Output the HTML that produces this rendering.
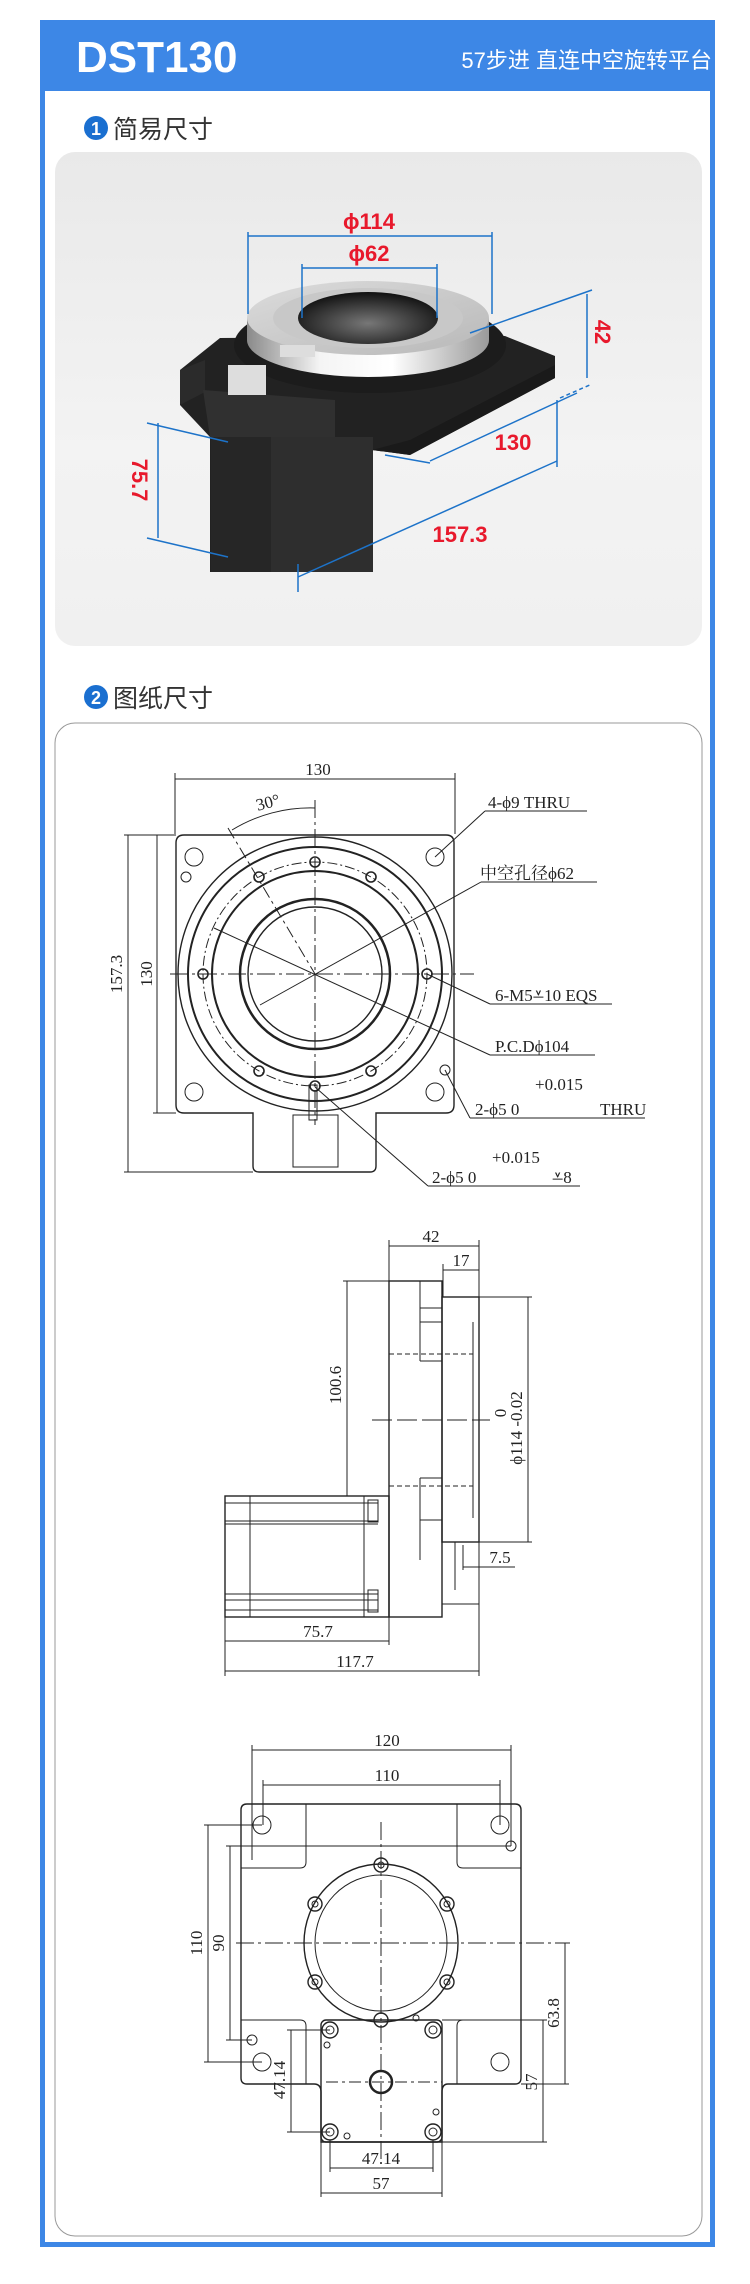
<!DOCTYPE html>
<html><head><meta charset="utf-8"><style>
html,body{margin:0;padding:0;background:#fff;}
svg{display:block;}
.d{font-family:"Liberation Serif","Noto Serif CJK SC",serif;font-size:17px;fill:#222;}
.r{font-family:"Liberation Sans",sans-serif;font-weight:bold;fill:#e8192c;font-size:22px;}
</style></head><body>
<svg width="750" height="2284" viewBox="0 0 750 2284" xmlns="http://www.w3.org/2000/svg">
<defs>
<linearGradient id="bg1" x1="0" y1="0" x2="0" y2="1"><stop offset="0" stop-color="#e9e9e9"/><stop offset="0.6" stop-color="#f3f3f3"/><stop offset="1" stop-color="#f0f0f0"/></linearGradient>
<linearGradient id="sil" x1="0" y1="0" x2="1" y2="0"><stop offset="0" stop-color="#8a8a8a"/><stop offset="0.3" stop-color="#f4f4f4"/><stop offset="0.6" stop-color="#ffffff"/><stop offset="1" stop-color="#9a9a9a"/></linearGradient>
<linearGradient id="top" x1="0" y1="0" x2="1" y2="1"><stop offset="0" stop-color="#dcdcdc"/><stop offset="1" stop-color="#b8b8b8"/></linearGradient>
<radialGradient id="bore" cx="0.5" cy="0.6" r="0.6"><stop offset="0" stop-color="#777"/><stop offset="1" stop-color="#111"/></radialGradient>
</defs>
<rect x="40" y="20" width="675" height="2227" fill="#3d87e6"/>
<rect x="45" y="91" width="665" height="2151" fill="#fff"/>
<text x="76" y="72" font-family="Liberation Sans, sans-serif" font-weight="bold" font-size="44" fill="#fff">DST130</text>
<text x="712" y="68" text-anchor="end" font-family="Liberation Sans, 'Noto Sans CJK SC', sans-serif" font-size="22" fill="#fff">57步进 直连中空旋转平台</text>
<circle cx="96" cy="128" r="12" fill="#1a6fd0"/><text x="96" y="135" text-anchor="middle" font-family="Liberation Sans,sans-serif" font-weight="bold" font-size="18" fill="#fff">1</text>
<text x="113" y="138" font-family="'Noto Sans CJK SC',sans-serif" font-size="25" fill="#333">简易尺寸</text>
<rect x="55" y="152" width="647" height="494" rx="20" fill="url(#bg1)"/>
<polygon points="180,370 220,338 505,336 555,356 555,378 410,455 372,450 372,572 210,572 210,437 180,405" fill="#222"/>
<polygon points="180,370 205,360 205,392 180,405" fill="#2b2b2b"/>
<polygon points="203,390 335,400 335,440 210,437" fill="#303030"/>
<polygon points="372,450 410,455 555,378 555,365 410,440" fill="#1a1a1a"/>
<rect x="211" y="437" width="162" height="135" fill="#2e2e2e"/>
<rect x="211" y="437" width="60" height="135" fill="#262626"/>
<ellipse cx="370" cy="345" rx="136" ry="48" fill="#1c1c1c"/>
<path d="M247 318 L247 340 A121 37 0 0 0 489 340 L489 318 Z" fill="url(#sil)"/>
<ellipse cx="368" cy="318" rx="121" ry="37" fill="url(#top)"/>
<ellipse cx="368" cy="318" rx="95" ry="30" fill="#c8c8c8"/>
<ellipse cx="368" cy="318" rx="70" ry="26" fill="url(#bore)"/>
<rect x="228" y="365" width="38" height="30" fill="#ddd"/>
<rect x="280" y="345" width="35" height="12" fill="#ddd"/>
<g stroke="#1d73c9" stroke-width="1.5" fill="none">
<line x1="248" y1="236" x2="492" y2="236"/><line x1="248" y1="232" x2="248" y2="314"/><line x1="492" y1="232" x2="492" y2="314"/>
<line x1="302" y1="268" x2="437" y2="268"/><line x1="302" y1="264" x2="302" y2="318"/><line x1="437" y1="264" x2="437" y2="318"/>
<line x1="470" y1="333" x2="592" y2="290"/><line x1="587" y1="294" x2="587" y2="378"/><line x1="560" y1="398" x2="592" y2="384" stroke-dasharray="4 3"/>
<line x1="577" y1="393" x2="430" y2="461"/><line x1="385" y1="455" x2="430" y2="463"/>
<line x1="557" y1="400" x2="557" y2="467"/><line x1="557" y1="461" x2="298" y2="577"/><line x1="298" y1="564" x2="298" y2="592"/>
<line x1="158" y1="423" x2="158" y2="538"/><line x1="147" y1="423" x2="228" y2="442"/><line x1="147" y1="538" x2="228" y2="557"/>
</g>
<text class="r" x="369" y="229" text-anchor="middle">ϕ114</text>
<text class="r" x="369" y="261" text-anchor="middle">ϕ62</text>
<text class="r" x="513" y="450" text-anchor="middle">130</text>
<text class="r" x="460" y="542" text-anchor="middle">157.3</text>
<text class="r" transform="translate(595,332) rotate(90)" text-anchor="middle">42</text>
<text class="r" transform="translate(132,480) rotate(90)" text-anchor="middle">75.7</text>
<circle cx="96" cy="697" r="12" fill="#1a6fd0"/><text x="96" y="704" text-anchor="middle" font-family="Liberation Sans,sans-serif" font-weight="bold" font-size="18" fill="#fff">2</text>
<text x="113" y="707" font-family="'Noto Sans CJK SC',sans-serif" font-size="25" fill="#333">图纸尺寸</text>
<rect x="55" y="723" width="647" height="1513" rx="20" fill="#fff" stroke="#999" stroke-width="1"/>
<g stroke="#222" fill="none" stroke-width="1">
<line x1="175" y1="779" x2="455" y2="779"/><line x1="175" y1="773" x2="175" y2="834"/><line x1="455" y1="773" x2="455" y2="834"/>
<path d="M184 835 L446 835 Q454 835 454 843 L454 1105 Q454 1113 446 1113 L376 1113 L376 1166 Q376 1172 370 1172 L259 1172 Q253 1172 253 1166 L253 1113 L184 1113 Q176 1113 176 1105 L176 843 Q176 835 184 835 Z" stroke-width="1.4"/>
<circle cx="315" cy="974" r="137" stroke-width="1.4"/>
<circle cx="315" cy="974" r="127" stroke-width="2"/>
<circle cx="315" cy="974" r="112" stroke-dasharray="10 3 2 3"/>
<circle cx="315" cy="974" r="103" stroke-width="2"/>
<circle cx="315" cy="974" r="75" stroke-width="2.5"/>
<circle cx="315" cy="974" r="67" stroke-width="1.4"/>
<circle cx="194" cy="857" r="9"/><circle cx="435" cy="857" r="9"/><circle cx="194" cy="1092" r="9"/><circle cx="435" cy="1092" r="9"/>
<circle cx="186" cy="877" r="5"/><circle cx="445" cy="1070" r="5"/>
<circle cx="315" cy="862" r="5" stroke-width="1.6"/><circle cx="315" cy="1086" r="5" stroke-width="1.6"/>
<circle cx="203" cy="974" r="5" stroke-width="1.6"/><circle cx="427" cy="974" r="5" stroke-width="1.6"/>
<circle cx="259" cy="877" r="5" stroke-width="1.6"/><circle cx="371" cy="877" r="5" stroke-width="1.6"/>
<circle cx="259" cy="1071" r="5" stroke-width="1.6"/><circle cx="371" cy="1071" r="5" stroke-width="1.6"/>
<line x1="170" y1="974" x2="474" y2="974" stroke-dasharray="18 4 3 4"/>
<line x1="315" y1="800" x2="315" y2="1125" stroke-dasharray="18 4 3 4"/>
<line x1="228" y1="828" x2="315" y2="974" stroke-dasharray="12 4 3 4"/>
<path d="M232 830 A150 150 0 0 1 315 808"/>
<line x1="214" y1="928" x2="490" y2="1055"/><line x1="490" y1="1055" x2="595" y2="1055"/>
<line x1="260" y1="1005" x2="481" y2="882"/><line x1="481" y1="882" x2="597" y2="882"/>
<line x1="435" y1="857" x2="485" y2="811"/><line x1="485" y1="811" x2="587" y2="811"/>
<line x1="427" y1="974" x2="490" y2="1004"/><line x1="490" y1="1004" x2="612" y2="1004"/>
<line x1="445" y1="1070" x2="470" y2="1118"/><line x1="470" y1="1118" x2="645" y2="1118"/>
<line x1="315" y1="1087" x2="428" y2="1186"/><line x1="428" y1="1186" x2="580" y2="1186"/>
<rect x="293" y="1115" width="45" height="52"/><rect x="309" y="1085" width="8" height="35"/>
<line x1="128" y1="835" x2="128" y2="1172"/><line x1="124" y1="835" x2="176" y2="835"/><line x1="124" y1="1172" x2="253" y2="1172"/>
<line x1="157" y1="835" x2="157" y2="1113"/><line x1="153" y1="1113" x2="176" y2="1113"/>
</g>
<text class="d" x="318" y="775" text-anchor="middle">130</text>
<text class="d" x="268" y="808" text-anchor="middle" transform="rotate(-15 268 803)">30°</text>
<text class="d" x="488" y="808">4-ϕ9 THRU</text>
<text class="d" x="480" y="879">中空孔径ϕ62</text>
<text class="d" x="495" y="1001">6-M5<tspan font-size="20">⩡</tspan>10 EQS</text>
<text class="d" x="495" y="1052">P.C.Dϕ104</text>
<text class="d" x="535" y="1090">+0.015</text>
<text class="d" x="475" y="1115">2-ϕ5  0</text><text class="d" x="600" y="1115">THRU</text>
<text class="d" x="492" y="1163">+0.015</text>
<text class="d" x="432" y="1183">2-ϕ5  0</text><text class="d" x="552" y="1183"><tspan font-size="20">⩡</tspan>8</text>
<text class="d" transform="translate(122,974) rotate(-90)" text-anchor="middle">157.3</text>
<text class="d" transform="translate(152,974) rotate(-90)" text-anchor="middle">130</text>
<g stroke="#222" fill="none" stroke-width="1">
<line x1="389" y1="1246" x2="479" y2="1246"/><line x1="389" y1="1240" x2="389" y2="1281"/><line x1="479" y1="1240" x2="479" y2="1297"/>
<line x1="443" y1="1270" x2="479" y2="1270"/><line x1="443" y1="1264" x2="443" y2="1297"/>
<rect x="389" y="1281" width="53" height="336" stroke-width="1.4"/>
<line x1="420" y1="1281" x2="420" y2="1361"/><line x1="420" y1="1361" x2="442" y2="1361"/>
<line x1="420" y1="1478" x2="420" y2="1560"/><line x1="420" y1="1478" x2="442" y2="1478"/>
<line x1="420" y1="1308" x2="442" y2="1308"/><line x1="420" y1="1322" x2="442" y2="1322"/>
<line x1="420" y1="1520" x2="442" y2="1520"/>
<rect x="442" y="1297" width="37" height="245" stroke-width="1.4"/>
<line x1="473" y1="1322" x2="473" y2="1518"/>
<line x1="389" y1="1354" x2="473" y2="1354" stroke-dasharray="5 3"/><line x1="389" y1="1486" x2="473" y2="1486" stroke-dasharray="5 3"/>
<line x1="372" y1="1420" x2="490" y2="1420" stroke-dasharray="20 5"/>
<rect x="225" y="1496" width="164" height="121" stroke-width="1.4"/>
<line x1="225" y1="1503" x2="378" y2="1503"/><line x1="225" y1="1521" x2="378" y2="1521"/><line x1="225" y1="1524" x2="378" y2="1524"/>
<line x1="225" y1="1594" x2="378" y2="1594"/><line x1="225" y1="1600" x2="378" y2="1600"/><line x1="225" y1="1610" x2="378" y2="1610"/>
<line x1="250" y1="1496" x2="250" y2="1617"/><line x1="364" y1="1496" x2="364" y2="1617"/>
<rect x="368" y="1500" width="10" height="22"/><rect x="368" y="1590" width="10" height="22"/>
<rect x="442" y="1542" width="37" height="62"/><line x1="455" y1="1542" x2="455" y2="1590"/>
<line x1="347" y1="1281" x2="347" y2="1496"/><line x1="343" y1="1281" x2="389" y2="1281"/>
<line x1="528" y1="1297" x2="528" y2="1542"/><line x1="479" y1="1297" x2="532" y2="1297"/><line x1="479" y1="1542" x2="532" y2="1542"/>
<line x1="463" y1="1567" x2="515" y2="1567"/><line x1="463" y1="1545" x2="463" y2="1570"/>
<line x1="225" y1="1641" x2="389" y2="1641"/><line x1="389" y1="1617" x2="389" y2="1645"/>
<line x1="225" y1="1671" x2="479" y2="1671"/><line x1="225" y1="1617" x2="225" y2="1676"/><line x1="479" y1="1604" x2="479" y2="1676"/>
</g>
<text class="d" x="431" y="1242" text-anchor="middle">42</text>
<text class="d" x="461" y="1266" text-anchor="middle">17</text>
<text class="d" transform="translate(341,1385) rotate(-90)" text-anchor="middle">100.6</text>
<text class="d" transform="translate(506,1413) rotate(-90)" text-anchor="middle">0</text>
<text class="d" transform="translate(522,1428) rotate(-90)" text-anchor="middle">ϕ114 -0.02</text>
<text class="d" x="500" y="1563" text-anchor="middle">7.5</text>
<text class="d" x="318" y="1637" text-anchor="middle">75.7</text>
<text class="d" x="355" y="1667" text-anchor="middle">117.7</text>
<g stroke="#222" fill="none" stroke-width="1">
<line x1="252" y1="1750" x2="511" y2="1750"/><line x1="252" y1="1745" x2="252" y2="1860"/><line x1="511" y1="1745" x2="511" y2="1846"/>
<line x1="263" y1="1785" x2="500" y2="1785"/><line x1="263" y1="1780" x2="263" y2="1825"/><line x1="500" y1="1780" x2="500" y2="1825"/>
<path d="M247 1804 L515 1804 Q521 1804 521 1810 L521 2078 Q521 2084 515 2084 L448 2084 Q442 2084 442 2092 L442 2142 L321 2142 L321 2092 Q321 2084 314 2084 L247 2084 Q241 2084 241 2078 L241 1810 Q241 1804 247 1804 Z" stroke-width="1.4"/>
<path d="M306 1804 L306 1862 Q306 1868 300 1868 L241 1868"/>
<path d="M457 1804 L457 1862 Q457 1868 463 1868 L521 1868"/>
<path d="M241 2020 L300 2020 Q306 2020 306 2026 L306 2084"/>
<path d="M521 2020 L463 2020 Q457 2020 457 2026 L457 2084"/>
<rect x="321" y="2020" width="121" height="122" rx="5" stroke-width="1.4"/>
<ellipse cx="381" cy="1943" rx="77" ry="79" stroke-width="1.4"/>
<ellipse cx="381" cy="1943" rx="66" ry="68"/>
<circle cx="262" cy="1825" r="9"/><circle cx="500" cy="1825" r="9"/><circle cx="262" cy="2062" r="9"/><circle cx="500" cy="2062" r="9"/>
<circle cx="511" cy="1846" r="5"/><circle cx="252" cy="2040" r="5"/>
<g stroke-width="1.4"><circle cx="381" cy="1865" r="7"/><circle cx="315" cy="1904" r="7"/><circle cx="447" cy="1904" r="7"/><circle cx="315" cy="1982" r="7"/><circle cx="447" cy="1982" r="7"/><circle cx="381" cy="2020" r="7"/>
<circle cx="330" cy="2030" r="8"/><circle cx="433" cy="2030" r="8"/><circle cx="330" cy="2132" r="8"/><circle cx="433" cy="2132" r="8"/>
<circle cx="381" cy="2082" r="11" stroke-width="2.5"/></g>
<circle cx="381" cy="1865" r="3"/><circle cx="315" cy="1904" r="3"/><circle cx="447" cy="1904" r="3"/><circle cx="315" cy="1982" r="3"/><circle cx="447" cy="1982" r="3"/>
<circle cx="330" cy="2030" r="4"/><circle cx="433" cy="2030" r="4"/><circle cx="330" cy="2132" r="4"/><circle cx="433" cy="2132" r="4"/>
<circle cx="416" cy="2018" r="3"/><circle cx="327" cy="2045" r="3"/><circle cx="347" cy="2136" r="3"/><circle cx="436" cy="2112" r="3"/>
<line x1="236" y1="1943" x2="570" y2="1943" stroke-dasharray="18 4 3 4"/>
<line x1="381" y1="1822" x2="381" y2="2160" stroke-dasharray="18 4 3 4"/>
<line x1="326" y1="2082" x2="442" y2="2082" stroke-dasharray="12 4 3 4"/>
<line x1="208" y1="1825" x2="208" y2="2062"/><line x1="204" y1="1825" x2="262" y2="1825"/><line x1="204" y1="2062" x2="262" y2="2062"/>
<line x1="230" y1="1846" x2="230" y2="2040"/><line x1="226" y1="1846" x2="511" y2="1846"/><line x1="226" y1="2040" x2="252" y2="2040"/>
<line x1="291" y1="2030" x2="291" y2="2132"/><line x1="287" y1="2030" x2="330" y2="2030"/><line x1="287" y1="2132" x2="330" y2="2132"/>
<line x1="565" y1="1943" x2="565" y2="2084"/><line x1="521" y1="2084" x2="569" y2="2084"/>
<line x1="543" y1="2020" x2="543" y2="2142"/><line x1="442" y1="2020" x2="547" y2="2020"/><line x1="442" y1="2142" x2="547" y2="2142"/>
<line x1="330" y1="2168" x2="433" y2="2168"/><line x1="330" y1="2140" x2="330" y2="2172"/><line x1="433" y1="2140" x2="433" y2="2172"/>
<line x1="321" y1="2193" x2="442" y2="2193"/><line x1="321" y1="2142" x2="321" y2="2197"/><line x1="442" y1="2142" x2="442" y2="2197"/>
</g>
<text class="d" x="387" y="1746" text-anchor="middle">120</text>
<text class="d" x="387" y="1781" text-anchor="middle">110</text>
<text class="d" transform="translate(202,1943) rotate(-90)" text-anchor="middle">110</text>
<text class="d" transform="translate(224,1943) rotate(-90)" text-anchor="middle">90</text>
<text class="d" transform="translate(285,2080) rotate(-90)" text-anchor="middle">47.14</text>
<text class="d" transform="translate(559,2013) rotate(-90)" text-anchor="middle">63.8</text>
<text class="d" transform="translate(537,2082) rotate(-90)" text-anchor="middle">57</text>
<text class="d" x="381" y="2164" text-anchor="middle">47.14</text>
<text class="d" x="381" y="2189" text-anchor="middle">57</text>
</svg>
</body></html>
